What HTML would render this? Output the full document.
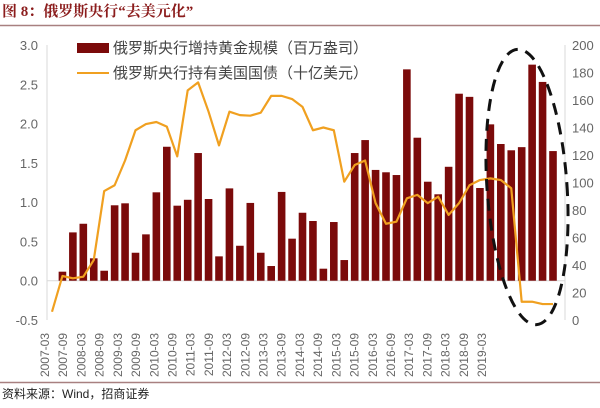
<!DOCTYPE html>
<html><head><meta charset="utf-8"><style>
body{margin:0;background:#fff;width:600px;height:403px;overflow:hidden;font-family:"Liberation Sans","Noto Sans CJK SC",sans-serif}
</style></head><body>
<svg id="c" width="600" height="403" xmlns="http://www.w3.org/2000/svg">
<text x="2" y="16" font-family="'Liberation Serif','Noto Serif CJK SC',serif" font-weight="bold" font-size="15" fill="#8b1c1c">图 8：俄罗斯央行“去美元化”</text>
<line x1="0" y1="25.5" x2="600" y2="25.5" stroke="#a88080" stroke-width="1.5"/>
<line x1="0" y1="382.5" x2="600" y2="382.5" stroke="#a88080" stroke-width="1.5"/>
<text x="2" y="398" font-size="12" fill="#222">资料来源：Wind，招商证券</text>
<g id="axes"></g><g id="bars"></g><g id="line"></g>
<g>
<rect x="77" y="43" width="32" height="10" fill="#7b0a0a"/>
<text x="113" y="53" font-size="15" fill="#444">俄罗斯央行增持黄金规模（百万盎司）</text>
<line x1="77" y1="73" x2="109" y2="73" stroke="#f0a020" stroke-width="2"/>
<text x="113" y="78" font-size="15" fill="#444">俄罗斯央行持有美国国债（十亿美元）</text>
</g>
<ellipse cx="527" cy="187" rx="40" ry="138" transform="rotate(-4 527 187)" fill="none" stroke="#111" stroke-width="3" stroke-dasharray="12,8"/>
</svg>
<script>
const leftTicks=["-0.5","0.0","0.5","1.0","1.5","2.0","2.5","3.0"];
const rightTicks=["0","20","40","60","80","100","120","140","160","180","200"];
const xLabels=["2007-03","2007-09","2008-03","2008-09","2009-03","2009-09","2010-03","2010-09","2011-03","2011-09","2012-03","2012-09","2013-03","2013-09","2014-03","2014-09","2015-03","2015-09","2016-03","2016-09","2017-03","2017-09","2018-03","2018-09","2019-03"];
const goldValues=[null,0.115,0.615,0.725,0.285,0.127,0.96,0.985,0.356,0.59,1.125,1.705,0.955,1.03,1.625,1.04,0.31,1.175,0.445,0.99,0.356,0.187,1.13,0.535,0.865,0.76,0.153,0.747,0.263,1.625,1.79,1.41,1.38,1.345,2.69,1.82,1.26,1.1,1.45,2.38,2.34,1.18,1.99,1.74,1.66,1.70,2.75,2.53,1.65];
const treasuryValues=[6,32,30.3,31.5,43.6,93.8,98,116,138,142.5,144,140.6,119,167,172.8,151.5,127,151.5,149,148.6,150.8,163,163,160.7,155,138,140,138,100.6,112.7,116,85,70,71.5,88.5,91,85,89.7,76.4,85,98,101.8,103,101.8,95.8,13.3,13.3,11.6,11.6];
const NS="http://www.w3.org/2000/svg";
const yTop=45,yBot=320,L=47,R=565;
const yL=v=>yBot-(v+0.5)/3.5*(yBot-yTop);
const yR=v=>yBot-v/200*(yBot-yTop);
const xC=i=>52+i*(553-52)/(goldValues.length-1);
function mk(tag,attrs,parent){const e=document.createElementNS(NS,tag);for(const k in attrs)e.setAttribute(k,attrs[k]);document.getElementById(parent).appendChild(e);return e;}
let e;
e=mk('line',{x1:L,y1:yTop,x2:L,y2:yBot,stroke:'#d9d9d9'},'axes');


e=mk('line',{x1:R,y1:yTop,x2:R,y2:yBot,stroke:'#d9d9d9'},'axes');


e=mk('line',{x1:L,y1:yL(0),x2:R,y2:yL(0),stroke:'#d9d9d9'},'axes');


leftTicks.forEach(t=>{const y=yL(parseFloat(t));
e=mk('text',{x:38,y:y+5,'text-anchor':'end','font-size':13,fill:'#666'},'axes');e.textContent=t;

});
rightTicks.forEach(t=>{const y=yR(parseFloat(t));
e=mk('text',{x:572,y:y+5,'font-size':13,fill:'#666'},'axes');e.textContent=t;

});
xLabels.forEach((t,i)=>{const x=45+i*(482-45)/(xLabels.length-1);
e=mk('text',{x:0,y:0,'text-anchor':'end','font-size':12,fill:'#666',transform:`translate(${x+4},333) rotate(-90)`},'axes');e.textContent=t;

});
goldValues.forEach((v,i)=>{if(v==null)return;const y=yL(v),y0=yL(0);
e=mk('rect',{x:xC(i)-3.8,y:Math.min(y,y0),width:7.6,height:Math.abs(y0-y),fill:'#7b0a0a'},'bars');

});
e=mk('polyline',{points:treasuryValues.map((v,i)=>xC(i)+','+yR(v)).join(' '),fill:'none',stroke:'#f0a020','stroke-width':2.2,'stroke-linejoin':'round'},'line');


</script>
</body></html>
